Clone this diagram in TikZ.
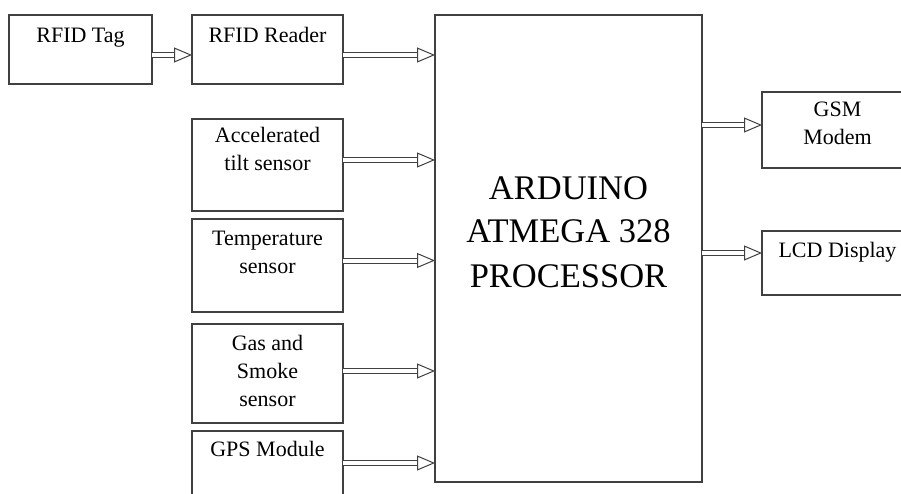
\documentclass[tikz,border=0pt]{standalone}
\usepackage{fontspec}
\setmainfont{Liberation Serif}
\usepackage{tikz}
\usetikzlibrary{arrows.meta, positioning}

\begin{document}
\begin{tikzpicture}[
    x=1pt, y=-1pt,
    every node/.style={color=black, font=\fontsize{22}{28}\selectfont},
    box/.style={draw=black!75, line width=1.2pt, rectangle, align=center,
                inner sep=0pt, outer sep=0pt, minimum width=151pt,
                anchor=north west},
    cpu/.style={box, minimum width=267pt, font=\fontsize{34.5}{44}\selectfont},
    flow/.style={draw=black!75, line width=1pt, double, double distance=4pt,
                 -{Triangle[open, length=18pt, width=15pt]}}
]
\useasboundingbox (0,0) rectangle (901,494);
\clip (0,0) rectangle (901,494);

% --- Input side ---
\node[box, minimum width=143pt, text height=28pt, text depth=41pt] (tag) at (9,15) {RFID Tag};
\node[box, right=40pt of tag, text height=28pt, text depth=41pt] (reader) {RFID Reader};
\node[box, below=35pt of reader, text height=52pt, text depth=40pt] (tilt) {Accelerated\\tilt sensor};
\node[box, below=8pt of tilt, text height=54pt, text depth=39pt] (temp) {Temperature\\sensor};
\node[box, below=12pt of temp, text height=82pt, text depth=17pt] (gas) {Gas and\\Smoke\\sensor};
\node[box, below=8pt of gas, text height=25pt, text depth=54pt] (gps) {GPS Module};

% --- Processor ---
\node[cpu, text height=272pt, text depth=195pt] (proc) at (435,15) {ARDUINO\\ATMEGA 328\\PROCESSOR};

% --- Output side ---
\node[box, text height=53pt, text depth=23pt] (gsm) at (762,92) {GSM\\Modem};
\node[box, text height=26pt, text depth=38pt] (lcd) at (762,231) {LCD Display};

% --- Arrows into the processor ---
\draw[flow] ([yshift=-5.5pt]tag.east) -- ([yshift=-5.5pt]tag.east -| reader.west);
\draw[flow] ([yshift=-5.5pt]reader.east) -- ([yshift=-5.5pt]reader.east -| proc.west);
\draw[flow] ([yshift=5pt]tilt.east) -- ([yshift=5pt]tilt.east -| proc.west);
\draw[flow] ([yshift=5pt]temp.east) -- ([yshift=5pt]temp.east -| proc.west);
\draw[flow] ([yshift=2.5pt]gas.east) -- ([yshift=2.5pt]gas.east -| proc.west);
\draw[flow] ([yshift=7.5pt]gps.east) -- ([yshift=7.5pt]gps.east -| proc.west);

% --- Arrows out of the processor ---
\draw[flow] ([yshift=5pt]gsm.west -| proc.east) -- ([yshift=5pt]gsm.west);
\draw[flow] ([yshift=10pt]lcd.west -| proc.east) -- ([yshift=10pt]lcd.west);

\end{tikzpicture}
\end{document}
